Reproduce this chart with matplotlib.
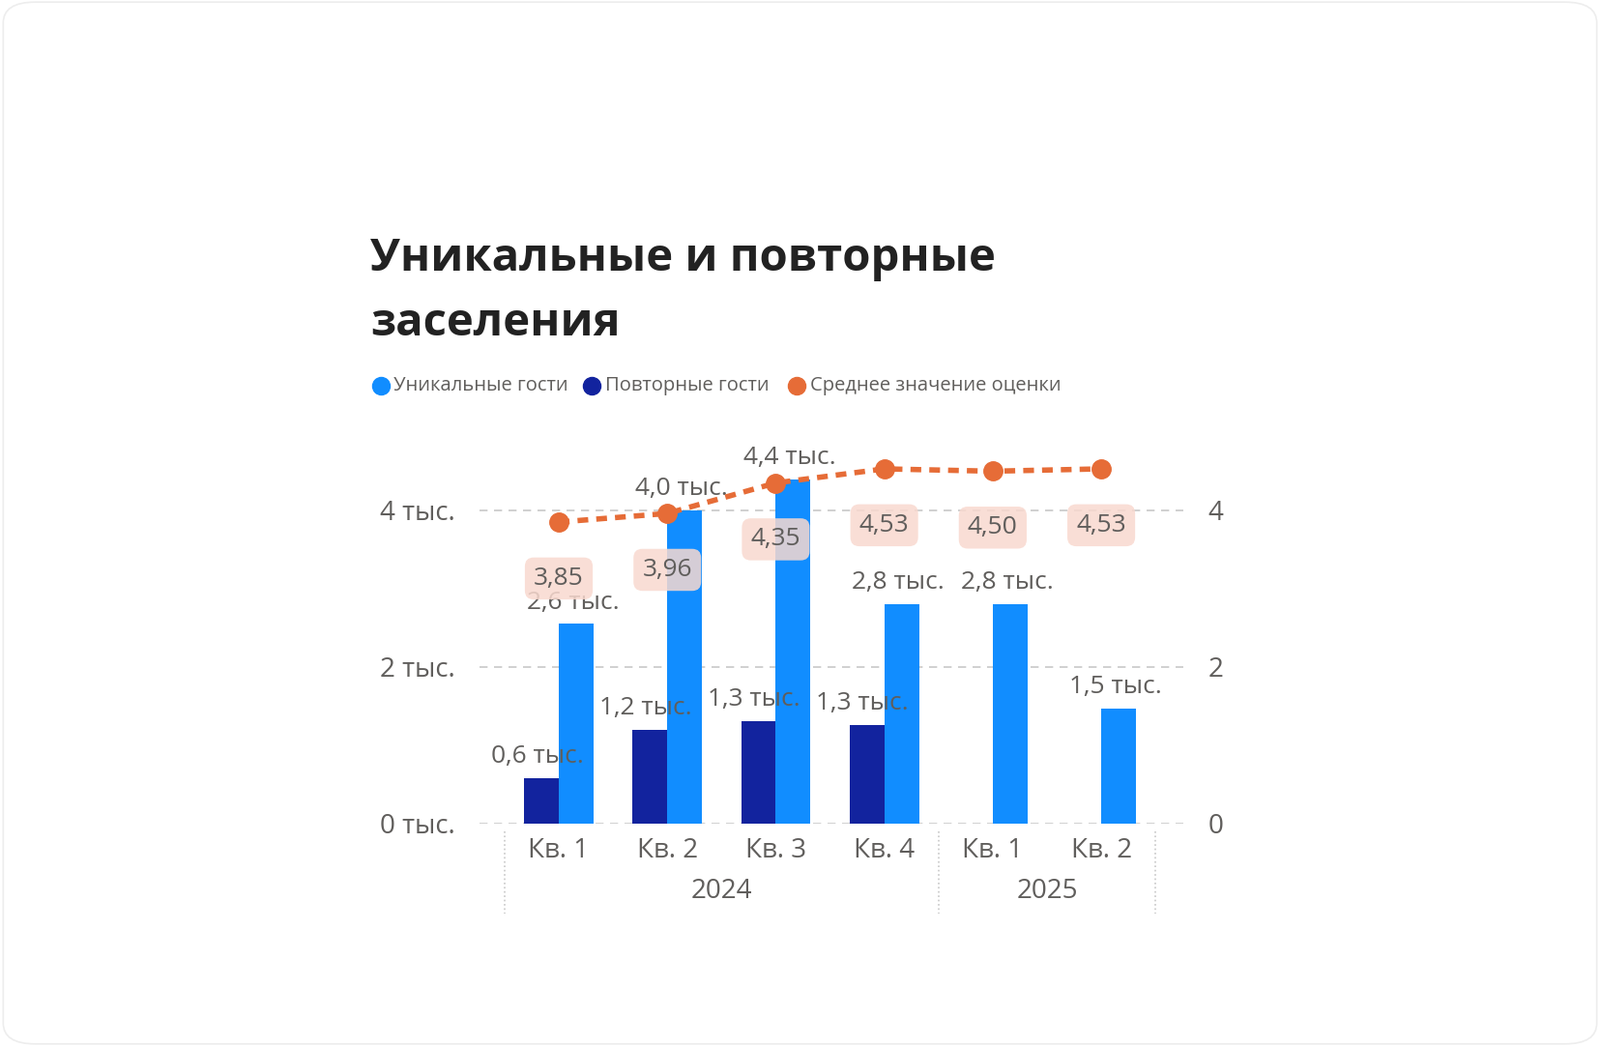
import matplotlib
matplotlib.use("Agg")
import matplotlib.pyplot as plt
from matplotlib.patches import FancyBboxPatch
from matplotlib.lines import Line2D
import numpy as np

quarters = ["Кв. 1", "Кв. 2", "Кв. 3", "Кв. 4", "Кв. 1", "Кв. 2"]
years = ["2024", "2025"]
year_spans = [(0, 3), (4, 5)]
unique_guests = [2.55, 4.0, 4.4, 2.8, 2.8, 1.47]
unique_labels = ["2,6 тыс.", "4,0 тыс.", "4,4 тыс.", "2,8 тыс.", "2,8 тыс.", "1,5 тыс."]
repeat_guests = [0.58, 1.2, 1.31, 1.26, None, None]
repeat_labels = ["0,6 тыс.", "1,2 тыс.", "1,3 тыс.", "1,3 тыс.", None, None]
ratings = [3.85, 3.96, 4.35, 4.53, 4.50, 4.53]
rating_labels = ["3,85", "3,96", "4,35", "4,53", "4,50", "4,53"]
left_ticks = [0, 2, 4]
left_tick_labels = ["0 тыс.", "2 тыс.", "4 тыс."]

C_UNI = "#118DFF"
C_REP = "#12239E"
C_RAT = "#E66C37"
GREY = "#605E5C"
FONT = "Open Sans"

W, H = 1568, 1024
fig = plt.figure(figsize=(16.55, 10.82), dpi=100)
fig.patch.set_facecolor("white")
border = FancyBboxPatch((0.002, 0.002), 0.996, 0.996, boxstyle="round,pad=0,rounding_size=0.02",
                        transform=fig.transFigure, fc="none", ec="#EDEDED", lw=1.2, zorder=-5)
fig.patches.append(border)

x0, x1 = 470 / W, 1160 / W
ytop, ybot = 423 / H, 806 / H
ax = fig.add_axes([x0, 1 - ybot, x1 - x0, ybot - ytop])
ax.set_facecolor("none")
ax.set_xlim(-0.73, 5.76)
ax.set_ylim(0, 5)
x = np.arange(len(quarters))
bw = 0.32
for i in x:
    ax.bar(i + bw / 2, unique_guests[i], bw, color=C_UNI, zorder=2)
    ax.text(i + 0.13, unique_guests[i] + 0.12, unique_labels[i], ha="center", va="bottom",
            fontsize=19, color=GREY, family=FONT, zorder=5)
    if repeat_guests[i] is not None:
        ax.bar(i - bw / 2, repeat_guests[i], bw, color=C_REP, zorder=2)
        ax.text(i - 0.2, repeat_guests[i] + 0.12, repeat_labels[i], ha="center", va="bottom",
                fontsize=19, color=GREY, family=FONT, zorder=5)
for yv in [0, 2, 4]:
    ax.axhline(yv, color="#C8C8C8", ls=(0, (5, 4)), lw=1.2, zorder=1)
ax.set_yticks(left_ticks)
ax.set_yticklabels(left_tick_labels, fontsize=20, color=GREY, family=FONT)
ax.set_xticks([])
ax.tick_params(axis="y", length=0, pad=18)
for s in ax.spines.values():
    s.set_visible(False)

ax2 = ax.twinx()
ax2.set_ylim(0, 5)
ax2.plot(x, ratings, color=C_RAT, ls=(0, (2, 1.5)), lw=4, marker="o", ms=14, zorder=4)
for i in x:
    ax2.annotate(rating_labels[i], (i, ratings[i]), xytext=(0, -42), textcoords="offset points",
                 ha="center", va="center", fontsize=19, color=GREY, family=FONT,
                 bbox=dict(boxstyle="round,pad=0.35", fc="#F9D9CF", ec="none", alpha=0.85), zorder=6)
ax2.set_yticks([0, 2, 4])
ax2.set_yticklabels(["0", "2", "4"], fontsize=20, color=GREY, family=FONT)
ax2.tick_params(axis="y", length=0, pad=18)
for s in ax2.spines.values():
    s.set_visible(False)

for i, q in enumerate(quarters):
    ax.text(i, -0.18, q, ha="center", va="top", fontsize=20, color=GREY, family=FONT, clip_on=False)
for (a, b), yr in zip(year_spans, years):
    ax.text((a + b) / 2, -0.7, yr, ha="center", va="top", fontsize=20, color=GREY, family=FONT, clip_on=False)
for xv in [-0.5, 3.5, 5.5]:
    ax.plot([xv, xv], [-0.1, -1.15], color="#C8C8C8", ls=":", lw=1.2, clip_on=False)

fig.text(363 / W, 1 - 253 / H, "Уникальные и повторные", fontsize=34, fontweight="bold",
         color="#222222", family=FONT, va="center")
fig.text(363 / W, 1 - 317 / H, "заселения", fontsize=34, fontweight="bold",
         color="#222222", family=FONT, va="center")

leg = [(373, "Уникальные гости", C_UNI), (580, "Повторные гости", C_REP), (781, "Среднее значение оценки", C_RAT)]
for px, lab, c in leg:
    fig.add_artist(Line2D([px / W], [1 - 378 / H], transform=fig.transFigure, marker="o", ms=13,
                          color=c, ls="none"))
    fig.text((px + 13) / W, 1 - 378 / H, lab, fontsize=14.5, color=GREY, family=FONT, va="center")

fig.savefig("out.png", dpi=100, facecolor="white")
